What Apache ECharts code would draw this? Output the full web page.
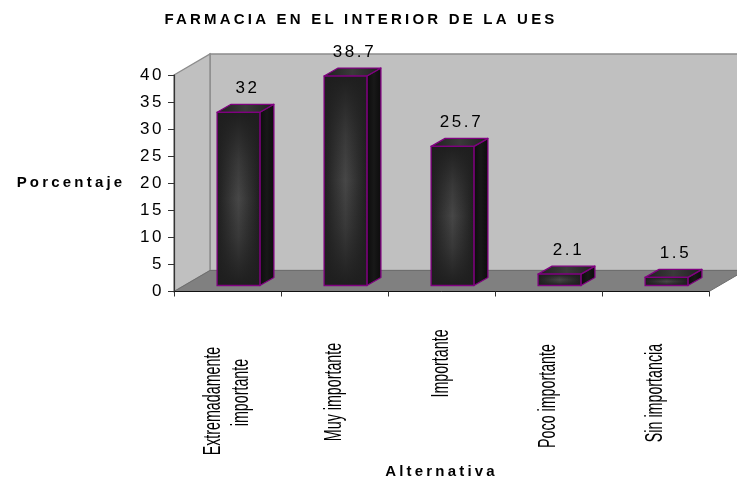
<!DOCTYPE html>
<html>
<head>
<meta charset="utf-8">
<style>html,body{margin:0;padding:0;background:#fff}#c{width:737px;height:480px}</style>
<script src="https://cdn.jsdelivr.net/npm/echarts@6/dist/echarts.min.js"></script>
</head>
<body>
<div id="c"></div>
<script>
// ---- data ----
const titleText = 'FARMACIA EN EL INTERIOR DE LA UES';
const yName = 'Porcentaje';
const xName = 'Alternativa';
const categories = ['Extremadamente\nimportante', 'Muy importante', 'Importante', 'Poco importante', 'Sin importancia'];
const values = [32, 38.7, 25.7, 2.1, 1.5];
const yMin = 0, yMax = 40, yStep = 5;

// ---- layout constants ----
const FONT = '"Liberation Sans", Arial, sans-serif';
const WALL_DX = 36, WALL_DY = -21;         // depth of the chart box
const BAR_SHIFT_X = 11, BAR_SHIFT_Y = -6;  // bar position within the floor depth
const BAR_DX = 14, BAR_DY = -8;            // depth of each bar
const BAR_RATIO = 0.4;
const LABEL_MID_Y = [[401, 392.5], [392], [363.5], [396], [393]]; // centre of each rotated line
const LABEL_LINE_GAP = 28;

// Wide tracking of the reference's text (ECharts has no letter-spacing option).
const proto = CanvasRenderingContext2D.prototype;
const origFill = proto.fillText;
proto.fillText = function (t, x, y, m) {
  const f = this.font || '';
  this.letterSpacing = f.includes('bold') ? '3.2px' : (f.includes('17px') ? '2.6px' : '0px');
  return m === undefined ? origFill.call(this, t, x, y) : origFill.call(this, t, x, y, m);
};

const chart = echarts.init(document.getElementById('c'), null, { renderer: 'canvas' });
const poly = (points, style, extra) => Object.assign({ type: 'polygon', shape: { points }, style }, extra || {});
const hGrad = (a, b) => ({ type: 'linear', x: 0, y: 0, x2: 1, y2: 0, colorStops: [{ offset: 0, color: a }, { offset: 0.5, color: b }, { offset: 1, color: a }] });
const vFade = { type: 'linear', x: 0, y: 0, x2: 0, y2: 1, colorStops: [
  { offset: 0, color: 'rgba(30,30,30,1)' }, { offset: 0.28, color: 'rgba(30,30,30,0.35)' },
  { offset: 0.5, color: 'rgba(30,30,30,0)' }, { offset: 0.72, color: 'rgba(30,30,30,0.35)' }, { offset: 1, color: 'rgba(30,30,30,1)' }] };

function renderBox(params, api) {
  const c = params.coordSys;
  const l = c.x, r = c.x + c.width, t = c.y, b = c.y + c.height;
  const edge = { stroke: '#8c8c8c', lineWidth: 1.4 };
  return { type: 'group', silent: true, children: [
    poly([[l + WALL_DX, t + WALL_DY], [r + WALL_DX, t + WALL_DY], [r + WALL_DX, b + WALL_DY], [l + WALL_DX, b + WALL_DY]],
      Object.assign({ fill: '#c0c0c0' }, edge)),
    poly([[l, t], [l + WALL_DX, t + WALL_DY], [l + WALL_DX, b + WALL_DY], [l, b]],
      Object.assign({ fill: '#c0c0c0' }, edge)),
    poly([[l, b], [l + WALL_DX, b + WALL_DY], [r + WALL_DX, b + WALL_DY], [r, b]],
      { fill: '#808080', stroke: '#6e6e6e', lineWidth: 1 })
  ] };
}

function renderBar(params, api) {
  const idx = api.value(0), val = api.value(1);
  const w = api.size([1, 0])[0] * BAR_RATIO;
  const top = api.coord([idx, val]), base = api.coord([idx, 0]);
  const x0 = top[0] + BAR_SHIFT_X - w / 2, x1 = x0 + w;
  const y0 = top[1] + BAR_SHIFT_Y, y1 = base[1] + BAR_SHIFT_Y;
  const line = { stroke: '#800080', lineWidth: 1.3, lineJoin: 'round' };
  return { type: 'group', children: [
    poly([[x1, y0], [x1 + BAR_DX, y0 + BAR_DY], [x1 + BAR_DX, y1 + BAR_DY], [x1, y1]],
      Object.assign({ fill: hGrad('#0b0b0b', '#181818') }, line)),
    poly([[x0, y0], [x0 + BAR_DX, y0 + BAR_DY], [x1 + BAR_DX, y0 + BAR_DY], [x1, y0]],
      Object.assign({ fill: hGrad('#1f1f1f', '#3a3a3a') }, line)),
    { type: 'rect', shape: { x: x0, y: y0, width: w, height: y1 - y0 }, style: { fill: hGrad('#1e1e1e', '#474747') } },
    { type: 'rect', shape: { x: x0, y: y0, width: w, height: y1 - y0 }, style: { fill: vFade } },
    { type: 'rect', shape: { x: x0, y: y0, width: w, height: y1 - y0 }, style: { fill: 'none', stroke: '#800080', lineWidth: 1.3 } },
    { type: 'text', x: top[0] + BAR_SHIFT_X + 9, y: y0 - 24,
      style: { text: String(val), font: '17px ' + FONT, fill: '#000', textAlign: 'center', textVerticalAlign: 'middle' } }
  ] };
}

function renderCat(params, api) {
  const idx = api.value(0);
  const x = api.coord([idx, 0])[0];
  const lines = categories[idx].split('\n');
  const children = lines.map((txt, i) => ({
    type: 'text',
    x: x + (i - (lines.length - 1) / 2) * LABEL_LINE_GAP,
    y: LABEL_MID_Y[idx][i],
    rotation: Math.PI / 2,
    scaleX: 0.62,
    style: { text: txt, font: '23px ' + FONT, fill: '#000', textAlign: 'center', textVerticalAlign: 'middle' }
  }));
  return { type: 'group', children };
}

chart.setOption({
  animation: false,
  backgroundColor: '#ffffff',
  title: {
    text: titleText, left: 356, top: 7, textAlign: 'center',
    textStyle: { fontFamily: FONT, fontSize: 15, fontWeight: 'bold', color: '#000' }
  },
  grid: { left: 174, right: 28, top: 75, bottom: 187.5, containLabel: false },
  xAxis: {
    type: 'category', data: categories, z: 5,
    name: xName, nameLocation: 'middle', nameGap: 180,
    nameTextStyle: { fontFamily: FONT, fontSize: 15, fontWeight: 'bold', color: '#000', verticalAlign: 'middle' },
    axisLine: { show: true, lineStyle: { color: '#111', width: 1 } },
    axisTick: { show: true, interval: 0, length: 5, lineStyle: { color: '#333', width: 1 } },
    axisLabel: { show: false },
    splitLine: { show: false }
  },
  yAxis: {
    type: 'value', min: yMin, max: yMax, interval: yStep, z: 5,
    name: yName, nameLocation: 'middle', nameGap: 103, nameRotate: 0,
    nameTextStyle: { fontFamily: FONT, fontSize: 15, fontWeight: 'bold', color: '#000', align: 'center', verticalAlign: 'middle' },
    axisLine: { show: true, lineStyle: { color: '#333', width: 1.2 } },
    axisTick: { show: true, length: 6, lineStyle: { color: '#333', width: 1 } },
    axisLabel: { fontFamily: FONT, fontSize: 17, color: '#000', margin: 10, verticalAlign: 'middle' },
    splitLine: { show: false }
  },
  series: [
    { type: 'custom', z: 1, clip: false, renderItem: renderBox, data: [[0, 0]], silent: true },
    { type: 'custom', z: 10, clip: false, renderItem: renderBar, data: values.map((v, i) => [i, v]) },
    { type: 'custom', z: 10, clip: false, renderItem: renderCat, data: categories.map((c, i) => [i, 0]) }
  ]
});
</script>
</body>
</html>
